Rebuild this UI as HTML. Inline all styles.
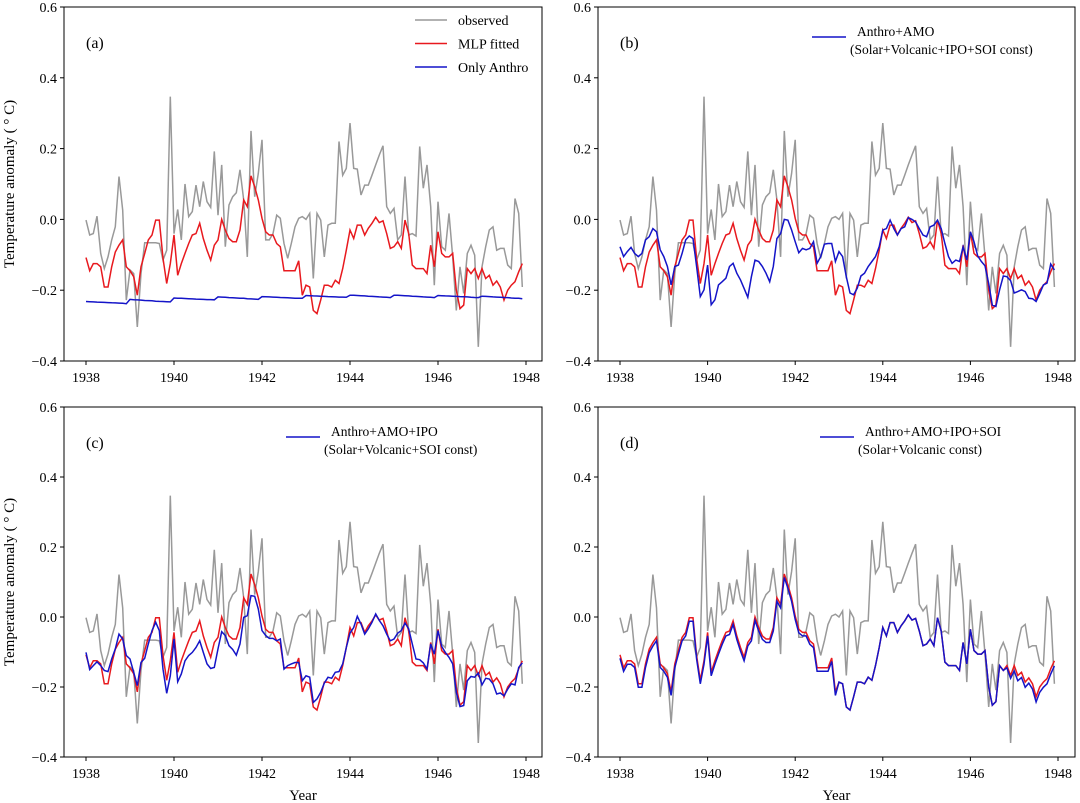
<!DOCTYPE html>
<html><head><meta charset="utf-8">
<style>
html,body{margin:0;padding:0;background:#fff;}
svg{display:block;font-family:"Liberation Serif",serif;}
</style></head>
<body>
<svg id="chart" width="1080" height="803" viewBox="0 0 1080 803" xmlns="http://www.w3.org/2000/svg"></svg>
<script>
const observed=[-0.002,-0.044,-0.040,0.009,-0.096,-0.139,-0.106,-0.058,-0.021,0.121,0.026,-0.228,
-0.143,-0.153,-0.304,-0.153,-0.066,-0.066,-0.066,-0.066,-0.068,-0.115,-0.087,0.347,
-0.040,0.028,-0.058,0.100,0.008,0.022,0.097,0.036,0.107,0.050,0.034,0.192,
0.012,0.154,-0.077,0.041,0.064,0.075,0.140,0.055,-0.106,0.250,0.064,0.130,
0.225,-0.058,-0.058,-0.040,0.012,0.003,-0.068,-0.110,-0.068,-0.021,0.003,0.008,
0.000,0.017,-0.167,0.017,-0.002,-0.106,-0.016,-0.011,-0.011,0.220,0.125,0.144,
0.272,0.144,0.142,0.069,0.097,0.097,0.125,0.154,0.182,0.208,0.036,0.017,
0.031,-0.058,-0.044,0.121,-0.044,-0.040,-0.047,0.206,0.088,0.154,0.036,-0.186,
0.050,-0.077,-0.087,0.017,-0.106,-0.257,-0.134,-0.209,-0.096,-0.073,-0.101,-0.360,
-0.134,-0.077,-0.030,-0.021,-0.087,-0.082,-0.082,-0.129,-0.139,0.059,0.017,-0.191];
const mlpFitted=[-0.108,-0.145,-0.125,-0.125,-0.134,-0.191,-0.191,-0.134,-0.092,-0.073,-0.058,-0.134,
-0.145,-0.162,-0.214,-0.134,-0.096,-0.058,-0.044,-0.002,-0.002,-0.110,-0.181,-0.125,
-0.044,-0.158,-0.125,-0.096,-0.068,-0.044,-0.040,-0.011,-0.054,-0.087,-0.115,-0.073,
-0.058,0.000,-0.030,-0.054,-0.063,-0.063,-0.030,0.055,0.036,0.123,0.092,0.055,
0.003,-0.035,-0.044,-0.044,-0.068,-0.077,-0.145,-0.145,-0.145,-0.145,-0.117,-0.214,
-0.186,-0.191,-0.257,-0.266,-0.228,-0.186,-0.186,-0.191,-0.172,-0.181,-0.139,-0.087,
-0.030,-0.054,-0.016,-0.016,-0.044,-0.025,-0.011,0.006,-0.009,-0.004,-0.040,-0.082,
-0.077,-0.063,-0.082,-0.002,-0.040,-0.129,-0.139,-0.139,-0.139,-0.153,-0.073,-0.134,
-0.035,-0.096,-0.106,-0.106,-0.096,-0.200,-0.252,-0.242,-0.139,-0.153,-0.139,-0.167,
-0.139,-0.167,-0.158,-0.186,-0.174,-0.191,-0.228,-0.200,-0.186,-0.176,-0.148,-0.125];
const onlyAnthro=[-0.232,-0.2325,-0.233,-0.2335,-0.234,-0.2345,-0.235,-0.2355,-0.236,-0.2365,-0.237,-0.238,
-0.226,-0.227,-0.2275,-0.228,-0.229,-0.2295,-0.230,-0.231,-0.2315,-0.232,-0.2325,-0.233,
-0.222,-0.2225,-0.223,-0.2235,-0.224,-0.2245,-0.225,-0.2255,-0.226,-0.2265,-0.2265,-0.227,
-0.219,-0.2195,-0.220,-0.221,-0.2215,-0.222,-0.2225,-0.223,-0.224,-0.2245,-0.225,-0.226,
-0.218,-0.2185,-0.219,-0.2195,-0.220,-0.2205,-0.221,-0.2215,-0.222,-0.2225,-0.2225,-0.223,
-0.215,-0.2155,-0.216,-0.2165,-0.217,-0.2175,-0.218,-0.2185,-0.219,-0.2195,-0.2195,-0.220,
-0.214,-0.2145,-0.215,-0.2155,-0.216,-0.217,-0.2175,-0.218,-0.219,-0.2195,-0.220,-0.221,
-0.214,-0.2145,-0.215,-0.2155,-0.216,-0.217,-0.2175,-0.218,-0.219,-0.2195,-0.220,-0.221,
-0.215,-0.2155,-0.216,-0.2165,-0.217,-0.2175,-0.218,-0.2185,-0.219,-0.220,-0.2205,-0.221,
-0.217,-0.2175,-0.218,-0.219,-0.2195,-0.220,-0.2205,-0.221,-0.222,-0.2225,-0.223,-0.224];
const anthroAmo=[-0.077,-0.105,-0.091,-0.079,-0.096,-0.105,-0.096,-0.058,-0.049,-0.026,-0.035,-0.086,
-0.105,-0.133,-0.185,-0.133,-0.129,-0.096,-0.058,-0.047,-0.054,-0.133,-0.218,-0.199,
-0.129,-0.241,-0.227,-0.185,-0.176,-0.166,-0.133,-0.124,-0.152,-0.171,-0.195,-0.220,
-0.162,-0.115,-0.119,-0.133,-0.152,-0.176,-0.133,-0.054,-0.040,0.000,-0.002,-0.030,
-0.063,-0.094,-0.082,-0.086,-0.082,-0.063,-0.124,-0.105,-0.070,-0.068,-0.068,-0.119,
-0.091,-0.105,-0.162,-0.208,-0.213,-0.194,-0.160,-0.152,-0.133,-0.119,-0.105,-0.077,
-0.030,-0.026,-0.002,-0.026,-0.044,-0.026,-0.021,0.005,0.000,-0.007,-0.026,-0.044,
-0.049,-0.021,-0.016,-0.002,-0.026,-0.068,-0.105,-0.124,-0.115,-0.119,-0.077,-0.115,
-0.035,-0.063,-0.103,-0.119,-0.131,-0.181,-0.242,-0.246,-0.199,-0.160,-0.162,-0.173,
-0.208,-0.204,-0.199,-0.204,-0.223,-0.224,-0.232,-0.210,-0.185,-0.180,-0.126,-0.143];
const anthroAmoIpo=[-0.101,-0.150,-0.139,-0.128,-0.139,-0.153,-0.156,-0.120,-0.091,-0.049,-0.063,-0.110,
-0.120,-0.158,-0.196,-0.130,-0.118,-0.077,-0.039,-0.015,-0.039,-0.149,-0.218,-0.168,
-0.063,-0.185,-0.163,-0.125,-0.110,-0.101,-0.087,-0.068,-0.101,-0.134,-0.147,-0.144,
-0.091,-0.042,-0.053,-0.082,-0.093,-0.109,-0.077,-0.001,0.004,0.061,0.059,0.023,
-0.039,-0.053,-0.061,-0.061,-0.068,-0.063,-0.149,-0.139,-0.134,-0.130,-0.130,-0.182,
-0.168,-0.172,-0.244,-0.234,-0.215,-0.189,-0.172,-0.175,-0.158,-0.156,-0.134,-0.087,
-0.046,-0.030,0.002,-0.020,-0.049,-0.034,-0.015,0.009,-0.010,-0.025,-0.049,-0.068,
-0.063,-0.046,-0.039,-0.017,-0.034,-0.077,-0.120,-0.122,-0.131,-0.149,-0.077,-0.106,
-0.039,-0.084,-0.101,-0.115,-0.134,-0.215,-0.256,-0.253,-0.182,-0.170,-0.172,-0.160,
-0.194,-0.175,-0.177,-0.191,-0.220,-0.217,-0.225,-0.206,-0.191,-0.194,-0.144,-0.131];
const anthroAmoIpoSoi=[-0.118,-0.155,-0.135,-0.135,-0.144,-0.201,-0.201,-0.144,-0.102,-0.083,-0.068,-0.144,
-0.155,-0.172,-0.224,-0.144,-0.106,-0.068,-0.054,-0.012,-0.012,-0.120,-0.191,-0.135,
-0.054,-0.168,-0.135,-0.106,-0.078,-0.054,-0.050,-0.021,-0.064,-0.097,-0.125,-0.083,
-0.068,-0.010,-0.040,-0.064,-0.073,-0.073,-0.040,0.045,0.026,0.113,0.082,0.045,
-0.007,-0.045,-0.054,-0.054,-0.078,-0.087,-0.155,-0.155,-0.155,-0.155,-0.127,-0.224,
-0.186,-0.191,-0.257,-0.266,-0.228,-0.186,-0.186,-0.191,-0.172,-0.181,-0.139,-0.087,
-0.030,-0.054,-0.016,-0.016,-0.044,-0.025,-0.011,0.006,-0.009,-0.004,-0.040,-0.082,
-0.077,-0.063,-0.082,-0.002,-0.040,-0.129,-0.139,-0.139,-0.139,-0.153,-0.073,-0.134,
-0.035,-0.096,-0.106,-0.106,-0.096,-0.200,-0.252,-0.242,-0.139,-0.153,-0.145,-0.175,
-0.154,-0.182,-0.173,-0.201,-0.189,-0.206,-0.243,-0.215,-0.201,-0.191,-0.163,-0.140];
const startYear=1938;
const xTicks=[1938,1940,1942,1944,1946,1948];
const yTicks=[0.6,0.4,0.2,0.0,-0.2,-0.4];
const yTickLabels=["0.6","0.4","0.2","0.0","\u22120.2","\u22120.4"];

const NS="http://www.w3.org/2000/svg";
const svg=document.getElementById('chart');
function mk(tag,attrs,parent){const e=document.createElementNS(NS,tag);for(const k in attrs)e.setAttribute(k,attrs[k]);(parent||svg).appendChild(e);return e;}

const panels=[
 {id:'a',x0:86,x1:526,yTop:7,yBot:361,fl:64,fr:542,series:'anthro',legend:'a'},
 {id:'b',x0:620,x1:1058,yTop:7,yBot:361,fl:598,fr:1075,series:'amo'},
 {id:'c',x0:86,x1:526,yTop:407,yBot:757,fl:64,fr:542,series:'ipo'},
 {id:'d',x0:620,x1:1058,yTop:407,yBot:757,fl:598,fr:1075,series:'soi'}
];
const blueMap={anthro:onlyAnthro,amo:anthroAmo,ipo:anthroAmoIpo,soi:anthroAmoIpoSoi};
const legendText={
 b:["Anthro+AMO","(Solar+Volcanic+IPO+SOI const)"],
 c:["Anthro+AMO+IPO","(Solar+Volcanic+SOI const)"],
 d:["Anthro+AMO+IPO+SOI","(Solar+Volcanic const)"]};

panels.forEach(p=>{
 const g=mk('g',{});
 
 
 const xs=yr=>p.x0+(yr-1938)*(p.x1-p.x0)/10;
 const ys=v=>p.yTop+(0.6-v)*(p.yBot-p.yTop);
 const frame=mk('rect',{x:p.fl,y:p.yTop,width:p.fr-p.fl,height:p.yBot-p.yTop,fill:'none',stroke:'#000','stroke-width':1},g);
 
 
 xTicks.forEach(t=>{
  const X=xs(t);
  mk('line',{x1:X,x2:X,y1:p.yBot,y2:p.yBot+4,stroke:'#000'},g);
  const tx=mk('text',{x:X,y:p.yBot+21,'text-anchor':'middle','font-size':14},g);
  tx.textContent=t;
  
  
 });
 yTicks.forEach((t,k)=>{
  const Y=ys(t);
  mk('line',{x1:p.fl-4,x2:p.fl,y1:Y,y2:Y,stroke:'#000'},g);
  const tx=mk('text',{x:p.fl-7,y:Y+5,'text-anchor':'end','font-size':14},g);
  tx.textContent=yTickLabels[k];
  
  
 });
 const pts=arr=>arr.map((v,i)=>xs(startYear+i/12).toFixed(1)+','+ys(v).toFixed(1)).join(' ');
 const lo=mk('polyline',{points:pts(observed),fill:'none',stroke:'#999','stroke-width':1.5},g);
 
 
 const lr=mk('polyline',{points:pts(mlpFitted),fill:'none',stroke:'#e8191e','stroke-width':1.5},g);
 
 
 const lb=mk('polyline',{points:pts(blueMap[p.series]),fill:'none',stroke:'#1414c8','stroke-width':1.5},g);
 
 
 const lab=mk('text',{x:p.fl+22,y:p.yTop+41,'font-size':16},g);
 lab.textContent='('+p.id+')';
 
 
 if(p.id==='a'){
  const items=[['observed','#999'],['MLP fitted','#e8191e'],['Only Anthro','#1414c8']];
  items.forEach((it,k)=>{
   const Y=p.yTop+13+k*23.5;
   mk('line',{x1:415,x2:447,y1:Y,y2:Y,stroke:it[1],'stroke-width':1.5},g);
   const tx=mk('text',{x:458,y:Y+5,'font-size':14},g);
   tx.textContent=it[0];
   
   
  });
 } else {
  const lt=legendText[p.id];
  const lx={b:812,c:286,d:820}[p.id];
  const Y=p.yTop+30;
  mk('line',{x1:lx,x2:lx+34,y1:Y,y2:Y,stroke:'#1414c8','stroke-width':1.5},g);
  const t1=mk('text',{x:lx+45,y:Y-1,'font-size':13.5},g);
  t1.textContent=lt[0];
  
  
  const t2=mk('text',{x:lx+38,y:Y+17,'font-size':13.5},g);
  t2.textContent=lt[1];
  
  
 }
 if(p.id==='a'||p.id==='c'){
  const cy=(p.yTop+p.yBot)/2;
  const yt=mk('text',{x:14,y:cy,'text-anchor':'middle','font-size':15,transform:'rotate(-90 14 '+cy+')'},g);
  yt.textContent='Temperature anomaly ( \u00B0 C)';
  
  
 }
 if(p.id==='c'||p.id==='d'){
  const xt=mk('text',{x:(p.fl+p.fr)/2,y:800,'text-anchor':'middle','font-size':15},g);
  xt.textContent='Year';
  
  
 }
});
</script>
</body></html>
